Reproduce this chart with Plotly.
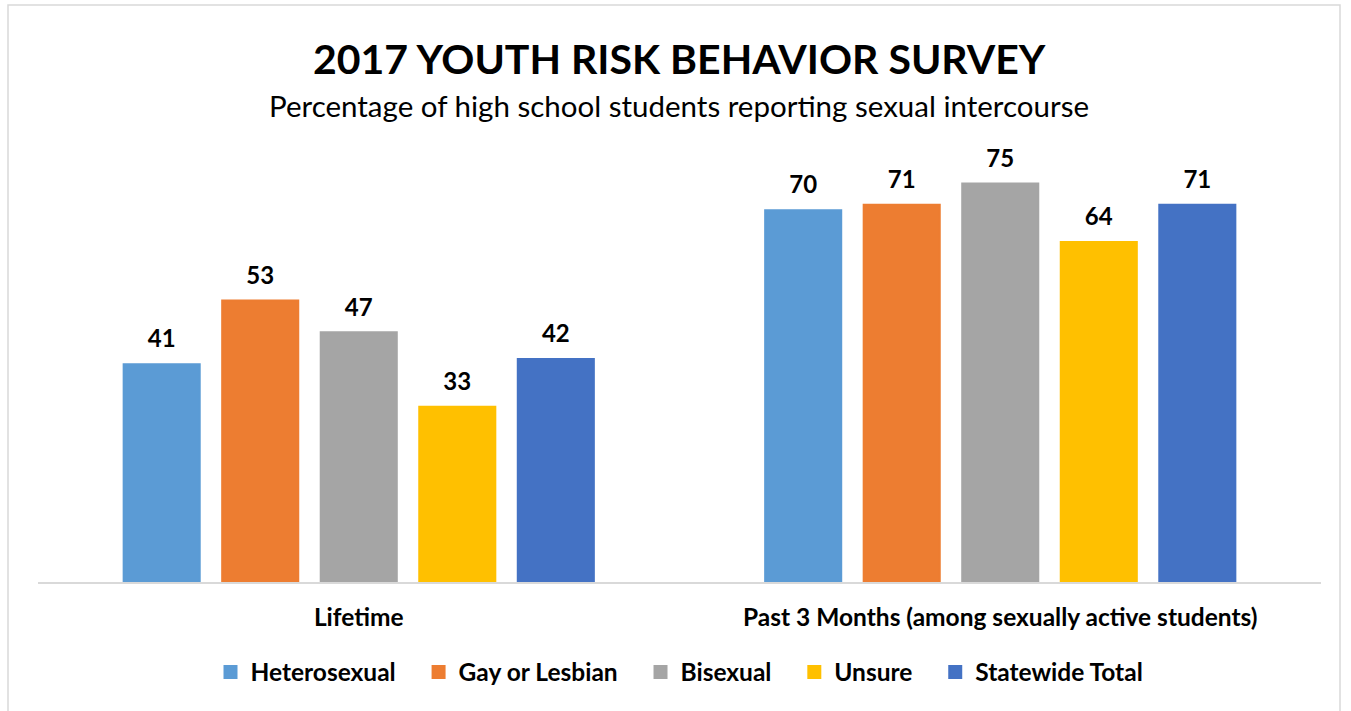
import plotly.graph_objects as go

categories = ["Lifetime", "Past 3 Months (among sexually active students)"]
groups = ["Heterosexual", "Gay or Lesbian", "Bisexual", "Unsure", "Statewide Total"]
values = {
    "Heterosexual": [41, 70],
    "Gay or Lesbian": [53, 71],
    "Bisexual": [47, 75],
    "Unsure": [33, 64],
    "Statewide Total": [42, 71],
}
colors = ["#5B9BD5", "#ED7D31", "#A5A5A5", "#FFC000", "#4472C4"]

FONT = "Lato"
SPACE = "\u00a0"

fig = go.Figure()
for i, (name, color) in enumerate(zip(groups, colors)):
    # pad legend entries (except the last) so items sit further apart
    pad = SPACE * 3 if i < len(groups) - 1 else ""
    fig.add_trace(go.Bar(
        name=name + pad,
        x=categories,
        y=values[name],
        marker=dict(color=color, line=dict(width=2, color=color)),
        # value label with a short spacer line underneath to lift it off the bar
        text=[f"<span style='font-size:24px'><b>{v}</b></span><br>&nbsp;" for v in values[name]],
        textposition="outside",
        textfont=dict(family=FONT, size=9, color="#000000"),
        cliponaxis=False,
    ))

W, H = 1351, 711
L, R, T, B = 38, 30, 157, 129
pw, ph = W - L - R, H - T - B


def px(x):
    return (x - L) / pw


def py(y):
    return (H - B - y) / ph


fig.update_layout(
    width=W, height=H,
    margin=dict(l=L, r=R, t=T, b=B),
    paper_bgcolor="white", plot_bgcolor="white",
    barmode="group", bargap=0.232, bargroupgap=0.228,
    font=dict(family=FONT, color="#000000"),
    showlegend=True,
    legend=dict(
        orientation="h", x=0.5, xanchor="center", y=py(672), yanchor="middle",
        font=dict(family=FONT, size=24.5, color="#000000", weight="bold"),
        traceorder="normal",
    ),
    xaxis=dict(
        showline=True, linecolor="#D9D9D9", linewidth=2,
        ticks="", showgrid=False, zeroline=False,
        tickfont=dict(family=FONT, size=24.5, color="#000000"),
        ticklabelstandoff=13,
        tickvals=categories, ticktext=[f"<b>{c}</b>" for c in categories],
    ),
    yaxis=dict(range=[0, 80], visible=False, showgrid=False, zeroline=False),
    annotations=[
        dict(text="<b>2017 YOUTH RISK BEHAVIOR SURVEY</b>", xref="paper", yref="paper",
             x=px(679), y=py(58), xanchor="center", yanchor="middle", showarrow=False,
             font=dict(family=FONT, size=41, color="#000000")),
        dict(text="Percentage of high school students reporting sexual intercourse",
             xref="paper", yref="paper", x=px(679), y=py(105), xanchor="center",
             yanchor="middle", showarrow=False,
             font=dict(family=FONT, size=29.5, color="#000000")),
    ],
    shapes=[
        dict(type="rect", xref="paper", yref="paper",
             x0=px(8), x1=px(1340), y0=py(730), y1=py(5),
             line=dict(color="#D9D9D9", width=1.5), fillcolor="rgba(0,0,0,0)"),
    ],
)

fig.write_html("out.html")
